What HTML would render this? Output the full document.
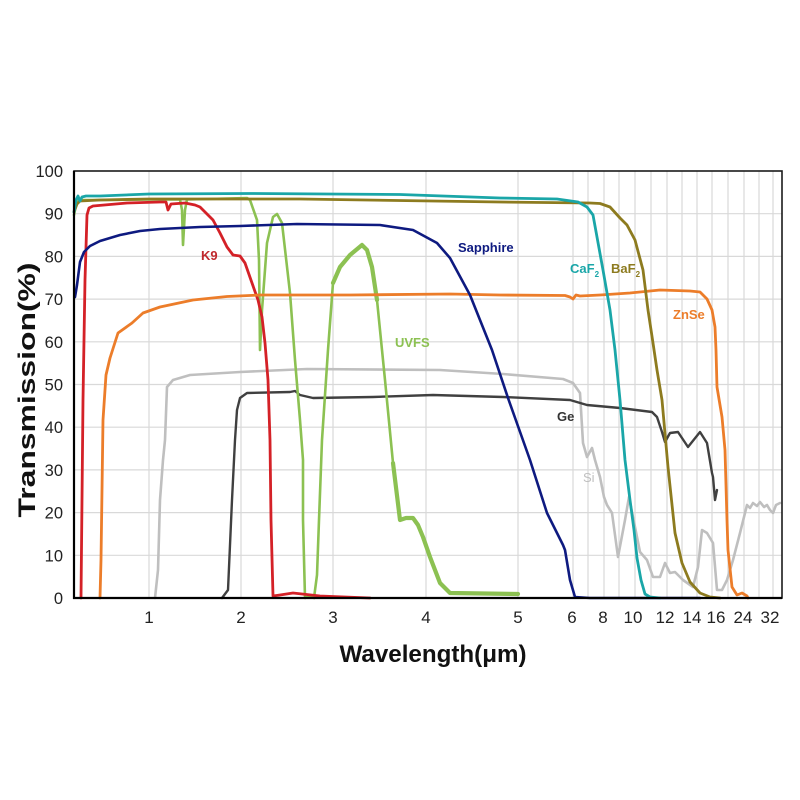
<!DOCTYPE html>
<html>
<head>
<meta charset="utf-8">
<style>
html,body{margin:0;padding:0;background:#fff;}
svg{display:block;}
text{font-family:"Liberation Sans",Arial,sans-serif;}
</style>
</head>
<body>
<svg width="800" height="800" viewBox="0 0 800 800" xmlns="http://www.w3.org/2000/svg">
<rect x="0" y="0" width="800" height="800" fill="#fff"/>
<!-- grid -->
<g stroke="#d9d9d9" stroke-width="1.2" fill="none">
<line x1="74" y1="213.7" x2="782" y2="213.7"/>
<line x1="74" y1="256.4" x2="782" y2="256.4"/>
<line x1="74" y1="299.1" x2="782" y2="299.1"/>
<line x1="74" y1="341.8" x2="782" y2="341.8"/>
<line x1="74" y1="384.5" x2="782" y2="384.5"/>
<line x1="74" y1="427.2" x2="782" y2="427.2"/>
<line x1="74" y1="469.9" x2="782" y2="469.9"/>
<line x1="74" y1="512.6" x2="782" y2="512.6"/>
<line x1="74" y1="555.3" x2="782" y2="555.3"/>
<line x1="149" y1="171" x2="149" y2="598"/>
<line x1="241" y1="171" x2="241" y2="598"/>
<line x1="333" y1="171" x2="333" y2="598"/>
<line x1="426" y1="171" x2="426" y2="598"/>
<line x1="518" y1="171" x2="518" y2="598"/>
<line x1="573" y1="171" x2="573" y2="598"/>
<line x1="588" y1="171" x2="588" y2="598"/>
<line x1="604" y1="171" x2="604" y2="598"/>
<line x1="619" y1="171" x2="619" y2="598"/>
<line x1="635" y1="171" x2="635" y2="598"/>
<line x1="651" y1="171" x2="651" y2="598"/>
<line x1="667" y1="171" x2="667" y2="598"/>
<line x1="682" y1="171" x2="682" y2="598"/>
<line x1="697" y1="171" x2="697" y2="598"/>
<line x1="712" y1="171" x2="712" y2="598"/>
<line x1="728" y1="171" x2="728" y2="598"/>
<line x1="744" y1="171" x2="744" y2="598"/>
<line x1="759" y1="171" x2="759" y2="598"/>
<line x1="773" y1="171" x2="773" y2="598"/>
</g>

<g fill="none" stroke-linejoin="round" stroke-linecap="round">
<!-- Si -->
<path stroke="#bfbfbf" stroke-width="2.6" d="M155,598 L158,570 L160,500 L163,460 L165,440 L167,387 L173,380 L190,375 L240,372 L307,369 L440,370 L503,374 L563,379 L573,383 L580,393 L583,443 L587,457 L592,448 L595,460 L600,477 L604,497 L607,505 L612,513 L618,557 L625,520 L629,497 L635,527 L640,552 L647,560 L653,577 L660,577 L665,563 L670,573 L675,572 L683,580 L693,587 L698,567 L702,530 L707,533 L713,543 L717,590 L722,590 L727,580 L733,560 L740,533 L747,505 L750,508 L753,503 L757,506 L760,502 L764,507 L767,505 L770,510 L773,513 L776,505 L780,503"/>
<!-- Ge -->
<path stroke="#404040" stroke-width="2.4" d="M222,598 L228,590 L232,500 L235,440 L237,410 L240,398 L247,393 L290,392 L295,391 L300,395 L313,398 L373,397 L433,395 L503,397 L570,400 L587,405 L620,408 L652,412 L657,417 L662,432 L665,442 L670,433 L678,432 L688,447 L700,432 L707,443 L712,473 L713,477 L715,500 L717,490"/>
<!-- UVFS -->
<path stroke="#8cc152" stroke-width="2.6" d="M74,215 L76,205 L78,200 L82,200 L100,200 L149,199.5 L180,199.5 L182,210 L183,245 L185,210 L187,199.5 L247,198 L250,200 L257,220 L259,260 L260,350 L262,310 L267,243 L273,217 L277,214 L282,223 L290,293 L295,360 L300,420 L303,460 L303,520 L305,598 L310,596 L314,598 L317,575 L319,520 L322,440 L328,350 L333,283 L340,267 L350,255 L362,245 L367,250 L372,267 L377,300 L382,350 L385,380 L393,463 L400,520 L406,518 L413,518 L418,525 L423,537 L430,557 L440,583 L450,593 L518,594"/>
<path stroke="#8cc152" stroke-width="4.2" d="M333,283 L340,267 L350,255 L362,245 L367,250 L372,267 L377,300 M393,463 L400,520 L406,518 L413,518 L418,525 L423,537 L430,557 L440,583 L450,593 L518,594"/>
<!-- K9 -->
<path stroke="#d42127" stroke-width="2.8" d="M81,598 L83,400 L85,280 L87,215 L89,208 L93,206 L127,203 L160,202 L166,202 L168,210 L171,204 L185,203 L195,205 L200,207 L213,220 L220,233 L227,247 L233,255 L240,256 L245,263 L252,283 L258,300 L262,317 L265,343 L268,380 L270,440 L271,520 L273,596 L280,595 L293,593 L320,596 L370,598"/>
<!-- ZnSe -->
<path stroke="#ec7d2a" stroke-width="2.8" d="M100,598 L101,560 L103,420 L106,375 L110,358 L118,333 L132,323 L143,313 L160,307 L193,300 L227,296.5 L260,295 L350,295 L450,294 L500,295 L565,295.5 L570,297 L573,299 L576,295 L580,296 L600,295 L630,293 L660,290 L690,291 L700,292 L707,299 L712,310 L715,327 L716,350 L717,387 L722,417 L725,450 L727,520 L728,550 L732,587 L737,595 L742,593 L747,596 L748,598"/>
<!-- Sapphire -->
<path stroke="#0e1a80" stroke-width="2.6" d="M75,297 L77,285 L80,262 L84,252 L90,246 L100,241 L120,235 L140,231 L160,229 L200,227 L240,226 L297,224 L380,225 L413,230 L437,243 L450,258 L470,295 L492,350 L508,398 L530,460 L547,513 L563,545 L565,550 L570,580 L575,597 L590,598 L700,598"/>
<!-- BaF2 -->
<path stroke="#8d7b1f" stroke-width="2.8" d="M74,212 L77,204 L80,201 L100,200 L149,199 L300,199 L500,202 L590,203 L600,203.5 L610,207 L620,218 L627,225 L635,240 L643,270 L648,310 L653,343 L657,370 L662,400 L668,467 L675,533 L682,563 L690,582 L700,593 L710,597 L720,598"/>
<!-- CaF2 -->
<path stroke="#1aa6a8" stroke-width="2.8" d="M74,212 L76,200 L78,196 L80,201 L82,197 L86,196 L100,196 L149,194 L250,193.5 L400,194.5 L500,198 L557,199 L578,202 L587,207 L593,215 L597,237 L603,270 L610,310 L615,350 L620,400 L625,460 L630,500 L634,530 L637,558 L641,580 L645,594 L650,597 L660,598"/>
</g>

<!-- axes frame -->
<rect x="74" y="171" width="708" height="427" fill="none" stroke="#1a1a1a" stroke-width="1.6"/>
<line x1="74" y1="171" x2="74" y2="599" stroke="#000" stroke-width="2.2"/>
<line x1="73" y1="598" x2="782" y2="598" stroke="#000" stroke-width="2.2"/>

<!-- y tick labels -->
<g font-size="16.5" fill="#222" text-anchor="end">
<text x="63" y="177">100</text>
<text x="63" y="219.7">90</text>
<text x="63" y="262.4">80</text>
<text x="63" y="305.1">70</text>
<text x="63" y="347.8">60</text>
<text x="63" y="390.5">50</text>
<text x="63" y="433.2">40</text>
<text x="63" y="475.9">30</text>
<text x="63" y="518.6">20</text>
<text x="63" y="561.3">10</text>
<text x="63" y="604">0</text>
</g>

<!-- x tick labels -->
<g font-size="17" fill="#222" text-anchor="middle">
<text x="149" y="623">1</text>
<text x="241" y="623">2</text>
<text x="333" y="623">3</text>
<text x="426" y="623">4</text>
<text x="518" y="623">5</text>
<text x="572" y="623">6</text>
<text x="603" y="623">8</text>
<text x="633" y="623">10</text>
<text x="665" y="623">12</text>
<text x="692" y="623">14</text>
<text x="716" y="623">16</text>
<text x="743" y="623">24</text>
<text x="770" y="623">32</text>
</g>

<!-- axis titles -->
<text x="433" y="662" font-size="24" font-weight="bold" fill="#111" text-anchor="middle" textLength="187" lengthAdjust="spacingAndGlyphs">Wavelength(μm)</text>
<text transform="translate(35,390) rotate(-90)" font-size="24" font-weight="bold" fill="#111" text-anchor="middle" textLength="255" lengthAdjust="spacingAndGlyphs">Transmission(%)</text>

<!-- series labels -->
<g font-size="13" font-weight="bold">
<text x="201" y="260" fill="#c0282d">K9</text>
<text x="458" y="252" fill="#0e1a80">Sapphire</text>
<text x="570" y="273" fill="#1aa6a8">CaF<tspan font-size="8" dy="4">2</tspan></text>
<text x="611" y="273" fill="#8d7b1f">BaF<tspan font-size="8" dy="4">2</tspan></text>
<text x="673" y="319" fill="#ec7d2a">ZnSe</text>
<text x="395" y="347" fill="#8cc152">UVFS</text>
<text x="557" y="421" fill="#333">Ge</text>
<text x="583" y="482" fill="#bfbfbf" font-weight="normal">Si</text>
</g>
</svg>
</body>
</html>
